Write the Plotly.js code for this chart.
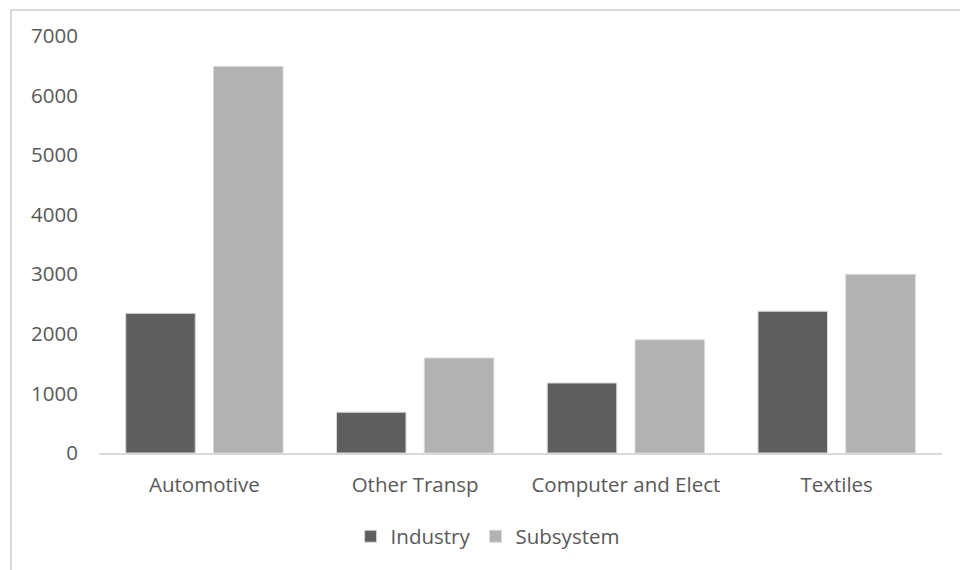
<!DOCTYPE html>
<html>
<head>
<meta charset="utf-8">
<script src="https://cdn.plot.ly/plotly-3.0.1.min.js"></script>
<style>
  html, body { margin: 0; padding: 0; background: #ffffff; overflow: hidden; }
  #chart { position: absolute; left: 0; top: 0; width: 960px; height: 570px; }
  #frame { position: absolute; left: 10px; top: 9px; width: 1000px; height: 600px;
           border-left: 2px solid #d9d9d9; border-top: 2px solid #d9d9d9; pointer-events: none; }
</style>
</head>
<body>
<div id="chart"></div>
<div id="frame"></div>
<script>
const categories = ["Automotive", "Other Transp", "Computer and Elect", "Textiles"];
const industry = [2345, 685, 1175, 2380];
const subsystem = [6490, 1595, 1900, 3000];
const yTicks = [0, 1000, 2000, 3000, 4000, 5000, 6000, 7000];

const font = { family: "Open Sans, sans-serif", size: 20.5, color: "#595959" };

const data = [
  { type: "bar", name: "Industry", x: categories, y: industry,
    marker: { color: "#5f5f5f", line: { color: "#d9d9d9", width: 1 } } },
  { type: "bar", name: "Subsystem", x: categories, y: subsystem,
    marker: { color: "#b2b2b2", line: { color: "#d9d9d9", width: 1 } } }
];

const layout = {
  width: 960, height: 570,
  margin: { l: 99, r: 18, t: 36, b: 117 },
  paper_bgcolor: "#ffffff", plot_bgcolor: "#ffffff",
  font: font,
  barmode: "group", bargap: 0.167, bargroupgap: 0.208,
  showlegend: true,
  legend: { orientation: "h", x: 0.461, xanchor: "center", y: -0.2, yanchor: "middle",
            font: font, itemwidth: 30, tracegroupgap: 0 },
  xaxis: { type: "category", showgrid: false, zeroline: false, showline: true,
           linecolor: "#d9d9d9", linewidth: 2, ticks: "", tickfont: font,
           ticklabelstandoff: 12 },
  yaxis: { range: [0, 7000], tickvals: yTicks, ticktext: yTicks.map(String),
           showgrid: false, zeroline: false, showline: false, ticks: "",
           ticklen: 0, tickfont: font, ticklabelstandoff: 20 }
};

Plotly.newPlot("chart", data, layout, { displayModeBar: false, staticPlot: true });
</script>
</body>
</html>
